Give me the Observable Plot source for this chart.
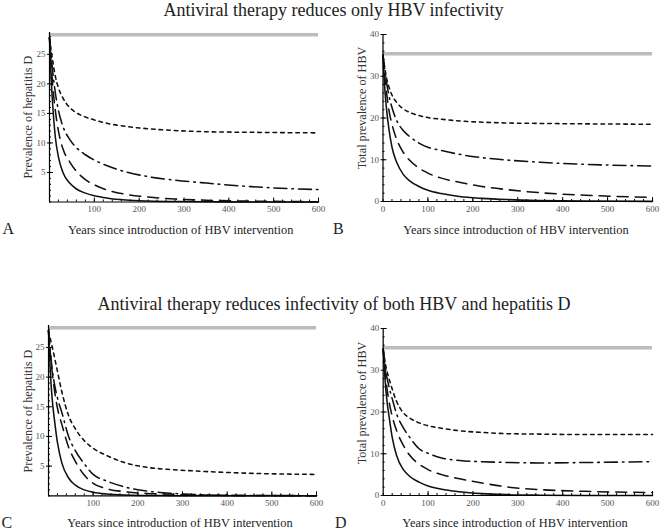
<!DOCTYPE html>
<html><head><meta charset="utf-8">
<script src="https://cdn.jsdelivr.net/npm/d3@7"></script>
<script src="https://cdn.jsdelivr.net/npm/@observablehq/plot@0.6"></script>
<style>
body{margin:0;background:#fff;}
#root{position:relative;width:661px;height:532px;font-family:"Liberation Serif","Times New Roman",serif;overflow:hidden;}
.t{position:absolute;white-space:nowrap;line-height:1;color:#222;}
.yl{position:absolute;white-space:nowrap;line-height:1;color:#333;transform:translate(-50%,-50%) rotate(-90deg);}
.p{position:absolute;}
</style></head><body><div id="root"></div>
<script>
// Years since introduction of HBV intervention (sample times)
const years = [0, 4, 8, 13, 20, 30, 45, 60, 80, 100, 130, 170, 220, 280, 350, 450, 600];

// Panel A: therapy reduces only HBV infectivity - prevalence of hepatitis D
const aSolid     = [27.8, 20.5, 15.5, 11.0, 7.6, 5.0, 3.2, 2.2, 1.5, 1.05, 0.65, 0.35, 0.17, 0.07, 0.03, 0.01, 0];
const aLongDash  = [27.8, 23.0, 19.0, 15.5, 12.0, 9.0, 6.8, 5.2, 3.8, 2.9, 2.0, 1.3, 0.85, 0.5, 0.3, 0.15, 0.05];
const aDashDot   = [27.8, 24.5, 21.5, 18.5, 15.5, 12.8, 10.6, 9.2, 8.0, 7.1, 6.1, 5.1, 4.3, 3.7, 3.2, 2.6, 2.1];
const aShortDash = [27.8, 25.5, 23.5, 21.3, 19.3, 17.6, 16.0, 15.1, 14.4, 13.9, 13.3, 12.8, 12.4, 12.1, 11.9, 11.8, 11.7];

// Panel B: therapy reduces only HBV infectivity - total prevalence of HBV
const bSolid     = [35, 27, 22, 17.5, 13, 9.5, 6.5, 4.9, 3.6, 2.7, 1.9, 1.2, 0.75, 0.45, 0.25, 0.1, 0.03];
const bLongDash  = [35, 30, 26, 22, 18.5, 15, 11.8, 9.8, 8.0, 6.8, 5.6, 4.6, 3.6, 2.8, 2.1, 1.5, 1.0];
const bDashDot   = [35, 31.5, 28.5, 25.5, 22.5, 19.5, 17, 15.5, 14, 13, 12.2, 11.3, 10.5, 9.9, 9.4, 8.9, 8.5];
const bShortDash = [35, 32, 29.5, 27.5, 25.5, 23.8, 22.2, 21.3, 20.6, 20.1, 19.7, 19.3, 19.0, 18.8, 18.7, 18.6, 18.5];

// Panel C: therapy reduces infectivity of both - prevalence of hepatitis D
const cSolid     = [27.8, 21, 16.5, 13, 9.0, 5.5, 3.0, 1.8, 1.0, 0.6, 0.3, 0.12, 0.05, 0.02, 0, 0, 0];
const cLongDash  = [27.8, 24, 21, 18, 14.8, 12, 8.2, 5.8, 3.5, 2.1, 1.2, 0.7, 0.4, 0.25, 0.12, 0.05, 0.02];
const cDashDot   = [27.8, 24.5, 21.5, 19, 16.5, 14, 10, 7.6, 5.4, 3.6, 2.5, 1.5, 0.8, 0.4, 0.15, 0.05, 0.02];
const cShortDash = [27.8, 26.5, 25.2, 23.5, 21, 17.5, 13.5, 11.3, 9.3, 8.0, 6.8, 5.6, 4.8, 4.4, 4.1, 3.8, 3.6];

// Panel D: therapy reduces infectivity of both - total prevalence of HBV
const dSolid     = [35, 28, 23, 19, 14, 9.5, 6.2, 4.5, 3.2, 2.3, 1.5, 0.9, 0.45, 0.2, 0.08, 0.02, 0];
const dLongDash  = [35, 30, 26, 22.5, 19, 15.5, 12, 9.5, 7.5, 6.2, 5.0, 4.0, 3.0, 2.0, 1.4, 1.0, 0.7];
const dDashDot   = [35, 31.5, 28.5, 26, 23.2, 19.5, 16.2, 13.8, 11.2, 10.1, 9.0, 8.4, 8.1, 7.9, 7.8, 7.9, 8.1];
const dShortDash = [35, 32, 30, 28, 25.5, 22.5, 19.8, 18.5, 17.4, 16.7, 16.1, 15.5, 15.1, 14.8, 14.7, 14.6, 14.6];

// Pre-intervention baselines (grey lines)
const baselineHD = 28.3;
const baselineHBV = 35.4;

// Tick values
const xTicksA = [100, 200, 300, 400, 500, 600];
const xTicksB = [0, 100, 200, 300, 400, 500, 600];
const xMinor = d3.range(0, 601, 20);
const yTicksHD = [5, 10, 15, 20, 25];
const yMinorHD = d3.range(0, 29, 1);
const yTicksHBV = [0, 10, 20, 30, 40];
const yMinorHBV = d3.range(0, 41, 2);

const titles = ["Antiviral therapy reduces only HBV infectivity", "Antiviral therapy reduces infectivity of both HBV and hepatitis D"];
const xLabel = "Years since introduction of HBV intervention";
const yLabelHD = "Prevalence of hepatitis D";
const yLabelHBV = "Total prevalence of HBV";
const panelLetters = ["A", "B", "C", "D"];

const dashes = {solid: null, longDash: "11,7", dashDot: "13,5,1.6,5", shortDash: "3.6,4"};

const root = document.getElementById("root");

function rows(arr) { return years.map((t, i) => ({t, v: arr[i]})); }

function panel({left, top, width, height, mL, mR, mT, mB, yMax, base, series, xTicks, yTicks, yMinor}) {
  const marks = [
    Plot.ruleY([base], {stroke: "#bcbcbc", strokeWidth: 3.5}),
    Plot.axisX(xMinor, {tickSize: -2, tickFormat: () => "", label: null, stroke: "#000"}),
    Plot.axisX(xTicks.filter(d => d > 0), {tickSize: -4, tickFormat: () => "", label: null, stroke: "#000"}),
    Plot.axisX(xTicks, {tickSize: 0, tickPadding: 4, label: null, fill: "#555", fontSize: 9}),
    Plot.axisY(yMinor, {tickSize: -2, tickFormat: () => "", label: null, stroke: "#000"}),
    Plot.axisY(yTicks.filter(d => d > 0), {tickSize: -4, tickFormat: () => "", label: null, stroke: "#000"}),
    Plot.axisY(yTicks, {tickSize: 2, tickPadding: 2, label: null, fill: "#555", fontSize: 9}),
    ...series.map(([arr, k]) => Plot.line(rows(arr), {x: "t", y: "v", curve: "monotone-x", stroke: "#111", strokeWidth: 1.55, strokeDasharray: dashes[k]})),
    Plot.ruleY([0], {stroke: "#000", strokeWidth: 1.2}),
    Plot.ruleX([0], {stroke: "#000", strokeWidth: 1.2})
  ];
  const svg = Plot.plot({
    width, height, marginLeft: mL, marginRight: mR, marginTop: mT, marginBottom: mB,
    x: {domain: [0, 600], axis: null},
    y: {domain: [0, yMax], axis: null},
    style: {fontFamily: "'Liberation Serif', serif", fontSize: "9px", background: "transparent", color: "#000"},
    marks
  });
  svg.classList.add("p");
  svg.style.left = left + "px";
  svg.style.top = top + "px";
  root.appendChild(svg);
}

function text(cls, str, left, top, size, extra) {
  const d = document.createElement("div");
  d.className = cls; d.textContent = str;
  d.style.left = left + "px"; d.style.top = top + "px"; d.style.fontSize = size + "px";
  if (extra) Object.assign(d.style, extra);
  root.appendChild(d);
  return d;
}

panel({left: 0, top: 20, width: 330, height: 200, mL: 49, mR: 12, mT: 12, mB: 18.5, yMax: 28.7, base: baselineHD,
  series: [[aSolid, "solid"], [aLongDash, "longDash"], [aDashDot, "dashDot"], [aShortDash, "shortDash"]],
  xTicks: xTicksA, yTicks: yTicksHD, yMinor: yMinorHD});
panel({left: 330, top: 20, width: 330, height: 200, mL: 52.5, mR: 8, mT: 14, mB: 19, yMax: 40, base: baselineHBV,
  series: [[bSolid, "solid"], [bLongDash, "longDash"], [bDashDot, "dashDot"], [bShortDash, "shortDash"]],
  xTicks: xTicksB, yTicks: yTicksHBV, yMinor: yMinorHBV});
panel({left: 0, top: 315, width: 330, height: 200, mL: 48, mR: 14, mT: 10, mB: 19.7, yMax: 28.7, base: baselineHD,
  series: [[cSolid, "solid"], [cLongDash, "longDash"], [cDashDot, "dashDot"], [cShortDash, "shortDash"]],
  xTicks: xTicksA, yTicks: yTicksHD, yMinor: yMinorHD});
panel({left: 330, top: 315, width: 330, height: 200, mL: 52.7, mR: 8, mT: 13, mB: 20, yMax: 40, base: baselineHBV,
  series: [[dSolid, "solid"], [dLongDash, "longDash"], [dDashDot, "dashDot"], [dShortDash, "shortDash"]],
  xTicks: xTicksB, yTicks: yTicksHBV, yMinor: yMinorHBV});

// Titles
text("t", titles[0], 333.5, 1, 18, {transform: "translateX(-50%)"});
text("t", titles[1], 334, 295, 18, {transform: "translateX(-50%)"});
// X labels
text("t", xLabel, 180.7, 224, 12.4, {transform: "translateX(-50%)"});
text("t", xLabel, 516, 224, 12.4, {transform: "translateX(-50%)"});
text("t", xLabel, 180, 516.5, 12.4, {transform: "translateX(-50%)"});
text("t", xLabel, 515, 516.5, 12.4, {transform: "translateX(-50%)"});
// Y labels
text("yl", yLabelHD, 28, 116.5, 12.2);
text("yl", yLabelHBV, 361.7, 108, 12.2);
text("yl", yLabelHD, 27.5, 411, 12.2);
text("yl", yLabelHBV, 361.7, 402.5, 12.2);
// Panel letters
text("t", panelLetters[0], 2.5, 220.6, 16);
text("t", panelLetters[1], 333, 220.6, 16);
text("t", panelLetters[2], 1.5, 514.6, 16);
text("t", panelLetters[3], 335, 514.6, 16);
</script></body></html>
